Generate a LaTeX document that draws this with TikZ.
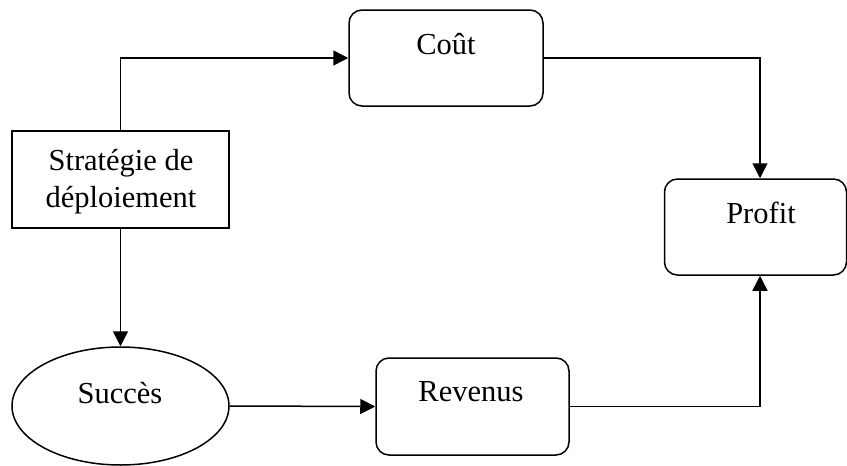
\documentclass[tikz,border=0pt]{standalone}
\usepackage{fontspec}
\setmainfont{Liberation Serif}
\usetikzlibrary{shapes.geometric,arrows.meta}
\begin{document}
\begin{tikzpicture}[x=1pt,y=-1pt,
  box/.style={draw,line width=1.5pt,inner sep=0pt},
  rbox/.style={box,rounded corners=13pt},
  lbl/.style={anchor=base,font=\fontsize{30.5}{37}\selectfont,inner sep=0pt},
  conn/.style={line width=1.5pt,-{Triangle[length=15pt,width=15pt]}}]
\useasboundingbox (0,0) rectangle (847,466);
% boxes
\node[rbox,minimum width=194pt,minimum height=96pt] (cout) at (446,58) {};
\node[rbox,minimum width=182pt,minimum height=96pt] (profit) at (755.5,227) {};
\node[rbox,minimum width=193pt,minimum height=97pt] (revenus) at (472.5,406.5) {};
\node[box,minimum width=217pt,minimum height=97pt] (strat) at (120.5,179.5) {};
\node[box,ellipse,minimum width=217pt,minimum height=118pt] (succes) at (120.5,406) {};
% texts
\node[lbl] (tcout) at (446,54) {Coût};
\node[lbl] (tprofit) at (761,223) {Profit};
\node[lbl] (trev) at (471,401) {Revenus};
\node[lbl] (tsucc) at (120,403) {Succès};
\node[lbl] (tstrat1) at (121,170) {Stratégie de};
\node[lbl] (tstrat2) at (121,207) {déploiement};
% connectors
\draw[conn] (strat.north) |- (cout.west);
\draw[conn] (cout.east) -| ([xshift=4.5pt]profit.north);
\draw[conn] (strat.south) -- (succes.north);
\draw[conn] (succes.east) -- (revenus.west);
\draw[conn] (revenus.east) -| ([xshift=4.5pt]profit.south);
\end{tikzpicture}
\end{document}
